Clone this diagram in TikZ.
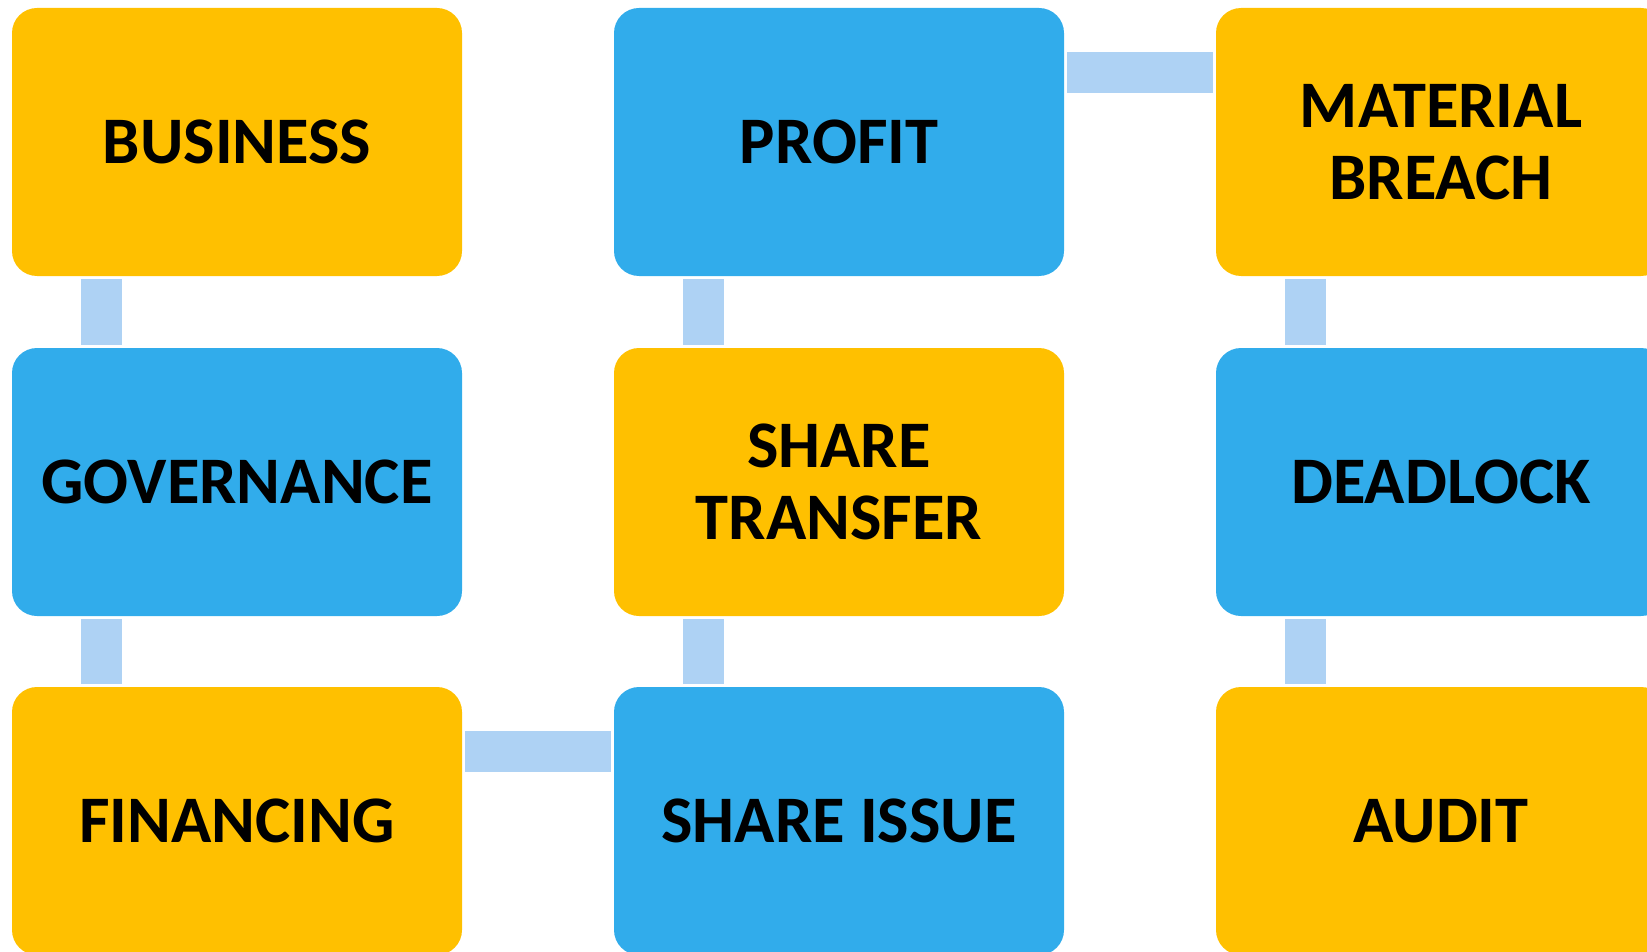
\documentclass[tikz,border=0pt]{standalone}
\usepackage{fontspec}
\setmainfont{Carlito}
\definecolor{boxorange}{HTML}{FFC000}
\definecolor{boxblue}{HTML}{31ACEB}
\definecolor{connblue}{HTML}{AED2F4}
\begin{document}
\begin{tikzpicture}[x=1pt,y=-1pt,
  card/.style={rectangle, rounded corners=25pt, minimum width=450pt, minimum height=268pt,
    inner sep=0pt, align=center, font=\fontsize{66.5}{72.5}\selectfont\bfseries, text=black},
  ocard/.style={card, fill=boxorange},
  bcard/.style={card, fill=boxblue},
  conn/.style={draw=connblue, line width=41pt, line cap=butt}]
\useasboundingbox (0,0) rectangle (1647,952);
\clip (0,0) rectangle (1647,952);
\node[ocard] (business) at (237,142) {BUSINESS};
\node[bcard] (gov) at (237,482) {GOVERNANCE};
\node[ocard] (fin) at (237,821) {FINANCING};
\node[bcard] (profit) at (839,142) {PROFIT};
\node[ocard] (transfer) at (839,482) {SHARE\\TRANSFER};
\node[bcard] (issue) at (839,821) {SHARE ISSUE};
\node[ocard] (breach) at (1441,142) {MATERIAL\\BREACH};
\node[bcard] (deadlock) at (1441,482) {DEADLOCK};
\node[ocard] (audit) at (1441,821) {AUDIT};
% vertical connectors
\draw[conn] ([xshift=89.5pt,yshift=-3pt]business.south west) -- ([xshift=89.5pt,yshift=3pt]gov.north west);
\draw[conn] ([xshift=89.5pt,yshift=-3pt]gov.south west) -- ([xshift=89.5pt,yshift=3pt]fin.north west);
\draw[conn] ([xshift=89.5pt,yshift=-3pt]profit.south west) -- ([xshift=89.5pt,yshift=3pt]transfer.north west);
\draw[conn] ([xshift=89.5pt,yshift=-3pt]transfer.south west) -- ([xshift=89.5pt,yshift=3pt]issue.north west);
\draw[conn] ([xshift=89.5pt,yshift=-3pt]breach.south west) -- ([xshift=89.5pt,yshift=3pt]deadlock.north west);
\draw[conn] ([xshift=89.5pt,yshift=-3pt]deadlock.south west) -- ([xshift=89.5pt,yshift=3pt]audit.north west);
% horizontal connectors
\draw[conn] ([xshift=3pt,yshift=-65pt]profit.north east) -- ([xshift=-3pt,yshift=-65pt]breach.north west);
\draw[conn] ([xshift=3pt,yshift=-65pt]fin.north east) -- ([xshift=-3pt,yshift=-65pt]issue.north west);
\end{tikzpicture}
\end{document}
